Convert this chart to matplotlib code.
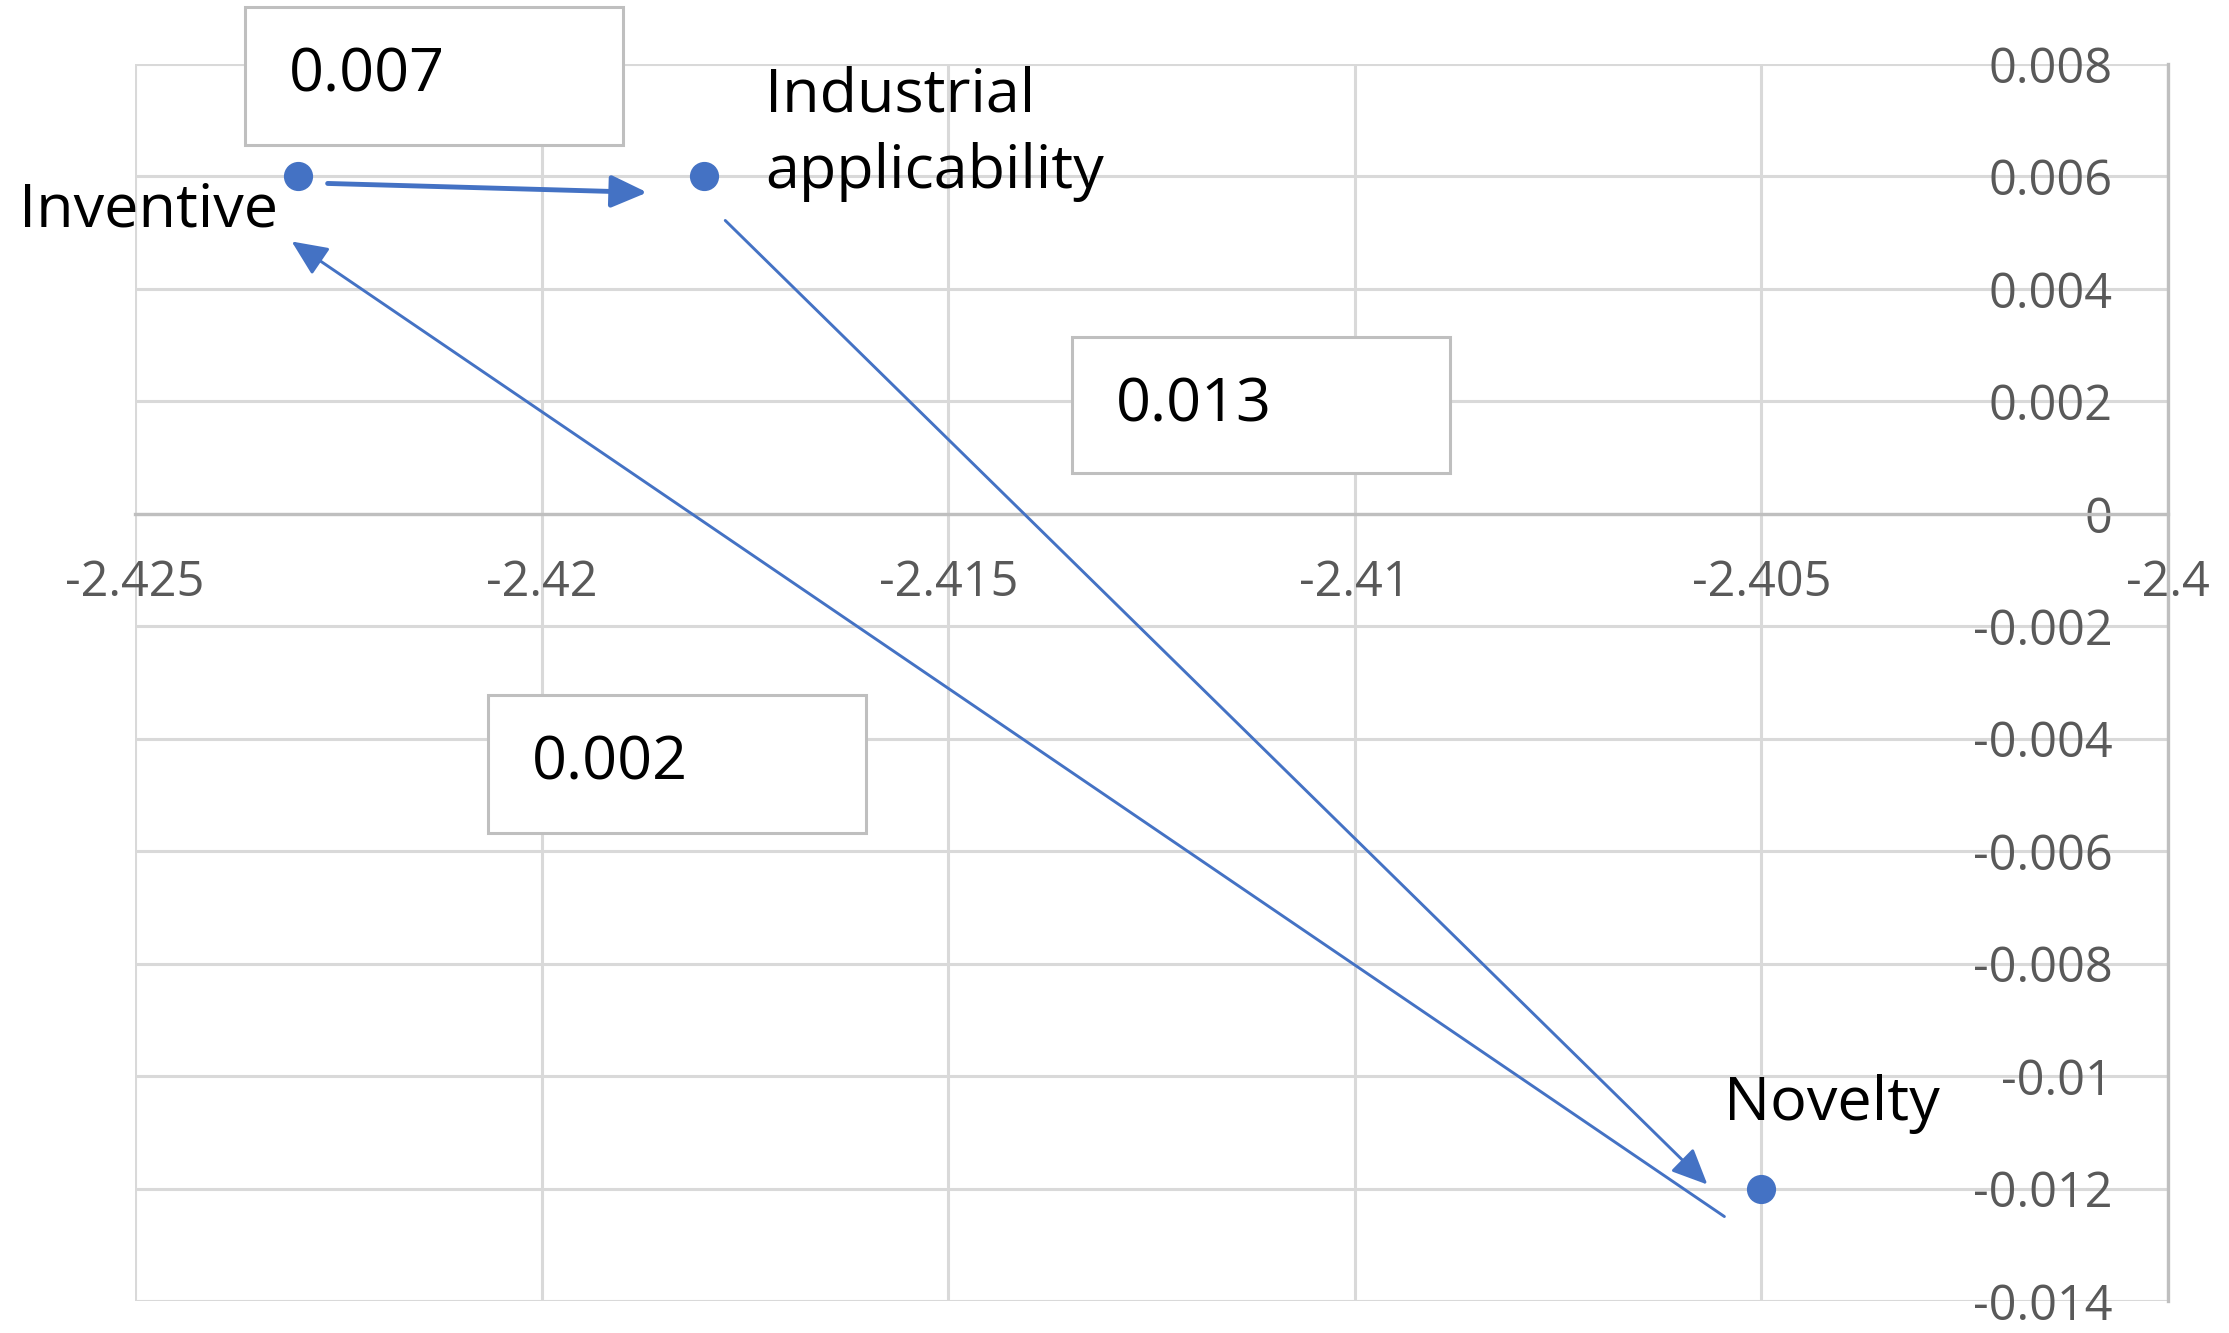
import matplotlib
matplotlib.use("Agg")
import matplotlib.pyplot as plt
from matplotlib.patches import Rectangle
from matplotlib.transforms import offset_copy
import numpy as np

# ---- data ----
names = ["Inventive", "Industrial\napplicability", "Novelty"]
x_vals = [-2.423, -2.418, -2.405]
y_vals = [0.006, 0.006, -0.012]
# edges: (from index, to index)
edge_from = [0, 1, 2]
edge_to = [1, 2, 0]
edge_labels = ["0.007", "0.013", "0.002"]
x_ticks = [-2.425, -2.42, -2.415, -2.41, -2.405, -2.4]
x_tick_labels = ["-2.425", "-2.42", "-2.415", "-2.41", "-2.405", "-2.4"]
y_ticks = [0.008, 0.006, 0.004, 0.002, 0, -0.002, -0.004, -0.006, -0.008, -0.01, -0.012, -0.014]
y_tick_labels = ["0.008", "0.006", "0.004", "0.002", "0", "-0.002", "-0.004", "-0.006",
                 "-0.008", "-0.01", "-0.012", "-0.014"]

# ---- layout / style ----
W, H = 2229, 1333
DPI = 100
BLUE = "#4472C4"
GRID = "#D9D9D9"
AXIS = "#BFBFBF"
TICK = "#595959"
FONT = "Open Sans"

plt.rcParams["font.family"] = [FONT, "DejaVu Sans"]

fig = plt.figure(figsize=(W / DPI, H / DPI), dpi=DPI)
ax = fig.add_axes([135 / W, 1 - 1301 / H, (2168 - 135) / W, (1301 - 64) / H])
ax.set_xlim(x_ticks[0], x_ticks[-1])
ax.set_ylim(y_ticks[-1], y_ticks[0])

ax.set_xticks(x_ticks)
ax.set_xticklabels(x_tick_labels)
ax.set_yticks(y_ticks)
ax.set_yticklabels(y_tick_labels)
ax.grid(True, color=GRID, lw=2.2, zorder=0)
ax.set_axisbelow(True)

for s in ["top", "right"]:
    ax.spines[s].set_visible(False)
ax.spines["left"].set_position(("data", x_ticks[-1]))
ax.spines["bottom"].set_position(("data", 0))
ax.spines["left"].set_color(AXIS)
ax.spines["bottom"].set_color(AXIS)
ax.spines["left"].set_linewidth(2.4)
ax.spines["bottom"].set_linewidth(2.4)
ax.tick_params(axis="both", length=0, labelsize=35, labelcolor=TICK)
ax.tick_params(axis="x", pad=32)
ax.tick_params(axis="y", pad=40)

# points
ax.plot(x_vals, y_vals, "o", color=BLUE, ms=20, zorder=4, clip_on=False)

# point labels
label_offsets = [(-20, -34), (61, 43), (70, 85)]
label_ha = ["right", "left", "center"]
for xv, yv, nm, off, ha in zip(x_vals, y_vals, names, label_offsets, label_ha):
    ax.annotate(nm, (xv, yv), xytext=off, textcoords="offset pixels",
                ha=ha, va="center", fontsize=44, color="black",
                linespacing=1.35, zorder=6)

# arrows (offsets from the connected points, in pixels)
start_off = [(30, -7), (21, -44), (-37, -28)]
end_off = [(-57, -16), (-54, 4), (-6, -65)]
arrow_lw = [3.5, 2.1, 2.1]
for i, j, so, eo, lw in zip(edge_from, edge_to, start_off, end_off, arrow_lw):
    tr_s = offset_copy(ax.transData, fig=fig, x=so[0], y=so[1], units="dots")
    tr_e = offset_copy(ax.transData, fig=fig, x=eo[0], y=eo[1], units="dots")
    ax.annotate("", xy=(x_vals[j], y_vals[j]), xycoords=tr_e,
                xytext=(x_vals[i], y_vals[i]), textcoords=tr_s,
                arrowprops=dict(arrowstyle="-|>,head_length=1.0,head_width=0.45",
                                color=BLUE, lw=lw, shrinkA=0, shrinkB=0,
                                mutation_scale=22),
                zorder=5)

# edge value boxes (figure pixel layout)
box_px = [(245, 7, 623, 145), (1072, 337, 1450, 473), (488, 695, 866, 833)]
for (x0, y0, x1, y1), lab in zip(box_px, edge_labels):
    fig.add_artist(Rectangle((x0 / W, 1 - y1 / H), (x1 - x0) / W, (y1 - y0) / H,
                             transform=fig.transFigure, facecolor="white",
                             edgecolor=AXIS, lw=2.2, zorder=5))
    fig.text((x0 + 44) / W, 1 - (y0 + y1) / 2 / H, lab, ha="left", va="center",
             fontsize=44, color="black", zorder=6)

fig.savefig("out.png", dpi=DPI)
